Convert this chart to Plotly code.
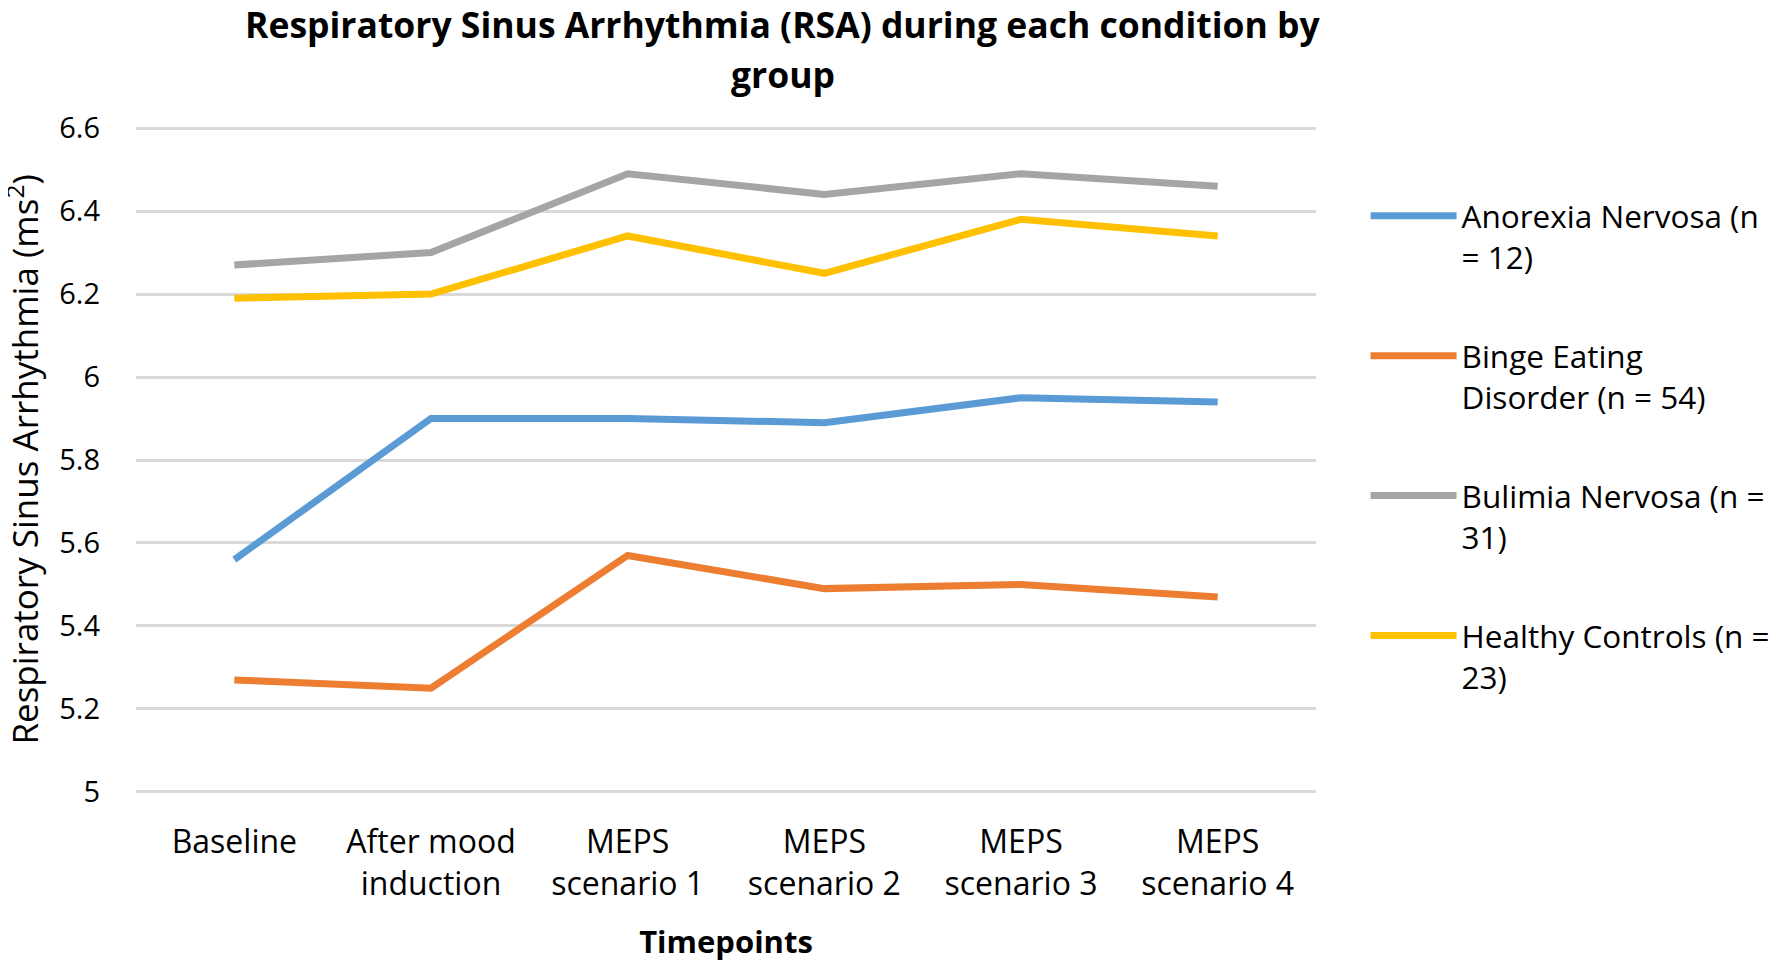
import plotly.graph_objects as go

categories = ["Baseline", "After mood<br>induction", "MEPS<br>scenario 1", "MEPS<br>scenario 2",
              "MEPS<br>scenario 3", "MEPS<br>scenario 4"]
anorexia = [5.56, 5.90, 5.90, 5.89, 5.95, 5.94]
binge = [5.27, 5.25, 5.57, 5.49, 5.50, 5.47]
bulimia = [6.27, 6.30, 6.49, 6.44, 6.49, 6.46]
healthy = [6.19, 6.20, 6.34, 6.25, 6.38, 6.34]
series_names = ["Anorexia Nervosa (n<br>= 12)", "Binge Eating<br>Disorder (n = 54)",
                "Bulimia Nervosa (n =<br>31)", "Healthy Controls (n =<br>23)"]
series_values = [anorexia, binge, bulimia, healthy]
colors = ["#5B9BD5", "#ED7D31", "#A5A5A5", "#FFC000"]
y_ticks = [5, 5.2, 5.4, 5.6, 5.8, 6, 6.2, 6.4, 6.6]
y_ticktext = ["5", "5.2", "5.4", "5.6", "5.8", "6", "6.2", "6.4", "6.6"]
title_lines = ["<b>Respiratory Sinus Arrhythmia (RSA) during each condition by</b>", "<b>group</b>"]
y_title = "Respiratory Sinus Arrhythmia (ms<sup>2</sup>)"

FONT = "Open Sans"
fig = go.Figure()
for i, (name, vals, c) in enumerate(zip(series_names, series_values, colors)):
    fig.add_trace(go.Scatter(x=list(range(len(categories))), y=vals, name=name, mode="lines",
                             line=dict(color=c, width=7), legendgroup=f"g{i}"))

for line, ypos in zip(title_lines, [1.152, 1.0784]):
    fig.add_annotation(text=line, xref="paper", yref="paper", x=0.548, y=ypos,
                       xanchor="center", yanchor="middle", showarrow=False,
                       font=dict(family=FONT, size=35.5, color="black"))

fig.add_annotation(text=y_title, xref="paper", yref="paper", x=-0.0961, y=0.5,
                   xanchor="center", yanchor="middle", textangle=-90, showarrow=False,
                   font=dict(family=FONT, size=35, color="black"))

fig.update_layout(
    template="none",
    width=1776, height=960,
    paper_bgcolor="white", plot_bgcolor="white",
    margin=dict(l=128, r=468, t=118, b=174, autoexpand=False),
    font=dict(family=FONT, size=26, color="black"),
    showlegend=True,
    legend=dict(x=1.042, y=0.906, xanchor="left", yanchor="top", valign="top",
                tracegroupgap=55, itemwidth=86, font=dict(family=FONT, size=31.5),
                bgcolor="rgba(0,0,0,0)", borderwidth=0),
    xaxis=dict(tickmode="array", tickvals=list(range(len(categories))), ticktext=categories,
               range=[-0.5, 5.5], showgrid=False, zeroline=False, showline=False, ticks="",
               automargin=False, ticklabelstandoff=26, tickfont=dict(size=32),
               title=dict(text="<b>Timepoints</b>", font=dict(size=31), standoff=28)),
    yaxis=dict(range=[4.995, 6.605], tickmode="array", tickvals=y_ticks, ticktext=y_ticktext,
               showgrid=True, gridcolor="#D9D9D9", gridwidth=2.5, zeroline=False, showline=False,
               automargin=False, ticks="", ticklabelstandoff=35, tickfont=dict(size=29)),
)

fig.write_html("out.html")
